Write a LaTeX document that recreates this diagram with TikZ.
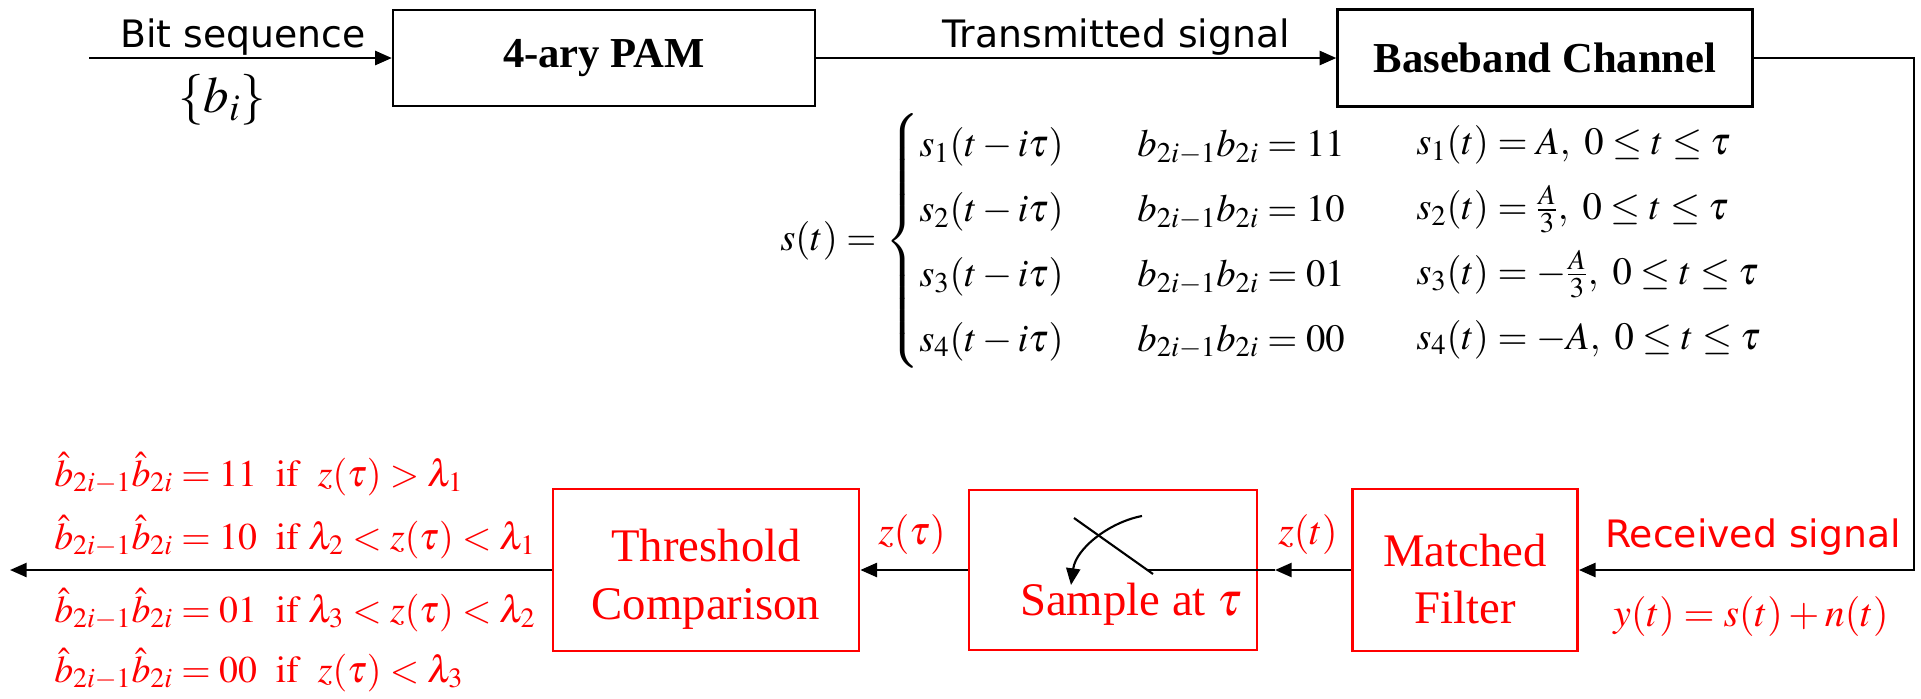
\documentclass[tikz,border=0pt]{standalone}
\usepackage{mathptmx}
\usepackage{fontspec}
\setmainfont{Liberation Serif}
\newfontfamily\handfont{DejaVu Sans}
\usetikzlibrary{arrows.meta}

\begin{document}
\begin{tikzpicture}[x=0.02cm, y=-0.02cm,
  txbox/.style={draw, line width=1.4pt, inner sep=0pt, font=\fontsize{24.3}{29}\selectfont\bfseries},
  rxbox/.style={draw=red, line width=1.6pt, inner sep=0pt},
  rxtxt/.style={text=red, inner sep=0pt, align=center, font=\fontsize{26.6}{32.9}\selectfont},
  arr/.style={-{Triangle[length=9.5pt,width=8pt]}, line width=1.4pt},
  lbl/.style={font=\handfont\fontsize{21.5}{25}\selectfont},
  eq/.style={inner sep=0pt, font=\fontsize{22}{26.4}\selectfont},
  rdeq/.style={inner sep=0pt, text=red, font=\fontsize{22.7}{27}\selectfont},
  dec/.style={inner sep=0pt, text=red, anchor=base west, font=\fontsize{21.5}{26}\selectfont}]
  \useasboundingbox (0,0) rectangle (1921,698);

  % Siųstuvas
  \coordinate (in) at (89,58);
  \coordinate (corner) at (1914,58);
  \node[txbox, minimum width=8.44cm, minimum height=1.92cm] (pam) at (604,58) {4-ary PAM};
  \node[txbox, minimum width=8.3cm, minimum height=1.94cm] (chan) at (1545,58) {Baseband Channel};

  % Imtuvas
  \node[rxbox, minimum width=6.12cm, minimum height=3.24cm] (thr) at (706,570) {};
  \node[rxbox, minimum width=5.76cm, minimum height=3.2cm] (smp) at (1113,570) {};
  \node[rxbox, minimum width=4.5cm, minimum height=3.24cm] (mf) at (1465,570) {};
  \node[rxtxt] (thrtxt) at (706,579) {Threshold\\Comparison};
  \node[rxtxt] (mftxt) at (1465,579) {Matched\\Filter};
  \node[rxtxt] (smptxt) at (1131,604) {Sample at $\tau$};
  \coordinate (out) at (10,570);
  \coordinate (tip) at (1275,570);
  \coordinate (pivot) at (1147,570);

  % Jungiklis
  \coordinate (swa) at (1074,518);
  \coordinate (swb) at (1153,574);
  \coordinate (swc) at (1142,516);
  \coordinate (swd) at (1071,585);

  \draw[arr] (in) -- (pam.west);
  \draw[arr] (pam.east) -- (chan.west);
  \draw[arr] (chan.east) -- (corner) |- (mf.east);
  \draw[arr] (mf.west) -- (tip);
  \draw[line width=1.4pt] (tip) -- (pivot);
  \draw[line width=1.2pt] (swa) -- (swb);
  \draw[arr, line width=1.2pt] (swc) .. controls (1110,522) and (1076,548) .. (swd);
  \draw[arr] (smp.west) -- (thr.east);
  \draw[arr] (thr.west) -- (out);

  \node[lbl] (bits) at (243,37) {Bit sequence};
  \node[eq, font=\fontsize{29}{34}\selectfont] (bi) at (222,100) {$\{b_i\}$};
  \node[lbl] (tx) at (1116,37) {Transmitted signal};
  \node[lbl, text=red] (rx) at (1753,537) {Received signal};
  \node[rdeq] (ysig) at (1751,617) {$y(t)=s(t)+n(t)$};
  \node[rdeq] (zt) at (1308,535) {$z(t)$};
  \node[rdeq] (ztau) at (912,535) {$z(\tau)$};

  % Signalai
  \node[eq, anchor=west] (st) at (780,241) {\def\arraystretch{1.396}$s(t)=\left\{\begin{array}{@{}l@{\hspace{42pt}}l@{}}
    s_1(t-i\tau) & b_{2i-1}b_{2i}=11\\
    s_2(t-i\tau) & b_{2i-1}b_{2i}=10\\
    s_3(t-i\tau) & b_{2i-1}b_{2i}=01\\
    s_4(t-i\tau) & b_{2i-1}b_{2i}=00
  \end{array}\right.$};
  \node[eq, anchor=west] (sk) at (1416,239) {\def\arraystretch{1.396}$\begin{array}{@{}l@{}}
    s_1(t)=A,\ 0\le t\le\tau\\
    s_2(t)=\frac{A}{3},\ 0\le t\le\tau\\
    s_3(t)=-\frac{A}{3},\ 0\le t\le\tau\\
    s_4(t)=-A,\ 0\le t\le\tau
  \end{array}$};

  % Sprendimai
  \node[dec] (d1) at (54,486) {$\hat{b}_{2i-1}\hat{b}_{2i}=11\ \ \mathrm{if}\ \ z(\tau)>\lambda_1$};
  \node[dec] (d2) at (54,549) {$\hat{b}_{2i-1}\hat{b}_{2i}=10\ \ \mathrm{if}\ \lambda_2<z(\tau)<\lambda_1$};
  \node[dec] (d3) at (54,622) {$\hat{b}_{2i-1}\hat{b}_{2i}=01\ \ \mathrm{if}\ \lambda_3<z(\tau)<\lambda_2$};
  \node[dec] (d4) at (54,682) {$\hat{b}_{2i-1}\hat{b}_{2i}=00\ \ \mathrm{if}\ \ z(\tau)<\lambda_3$};
\end{tikzpicture}
\end{document}
